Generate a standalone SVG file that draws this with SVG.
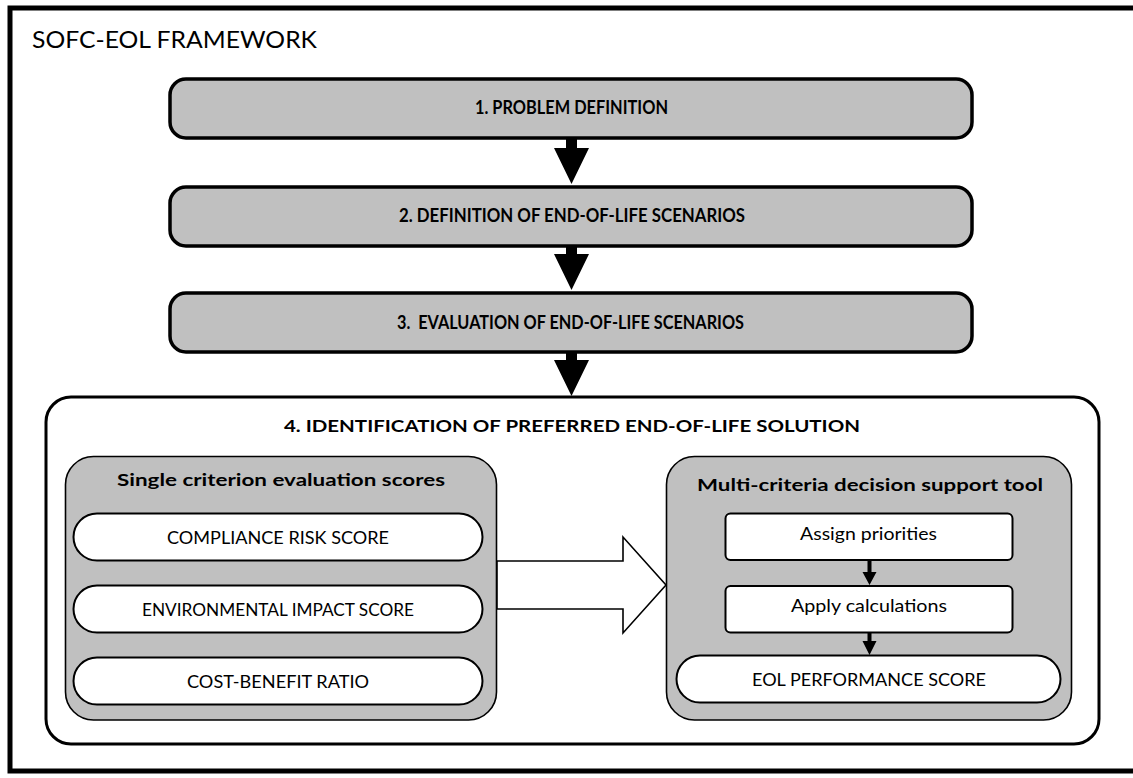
<svg xmlns="http://www.w3.org/2000/svg" width="1133" height="778" viewBox="0 0 1133 778">
  <style>
    .t { font-family: Lato, "Open Sans", "Liberation Sans", sans-serif; fill: #000; }
    .b { font-weight: bold; }
    .step { fill: #c0c0c0; stroke: #000; stroke-width: 3.5; }
    .panel { fill: #c0c0c0; stroke: #000; stroke-width: 1.6; }
    .pill { fill: #fff; stroke: #000; stroke-width: 2; }
    .solid { fill: #000; stroke: none; }
  </style>

  <!-- outer frame -->
  <rect x="10" y="8" width="1140" height="763" fill="#fff" stroke="#000" stroke-width="5"/>
  <text class="t" x="32" y="48" font-size="23" textLength="285" lengthAdjust="spacingAndGlyphs">SOFC-EOL FRAMEWORK</text>

  <!-- step 1 -->
  <g id="step1">
    <rect class="step" x="170" y="79" width="802" height="59" rx="16"/>
    <text class="t b" x="571.5" y="114" font-size="18.5" text-anchor="middle" textLength="193" lengthAdjust="spacingAndGlyphs">1. PROBLEM DEFINITION</text>
  </g>

  <!-- step 2 -->
  <g id="step2">
    <rect class="step" x="170" y="187" width="802" height="59" rx="16"/>
    <text class="t b" x="572" y="222" font-size="18.5" text-anchor="middle" textLength="346" lengthAdjust="spacingAndGlyphs">2. DEFINITION OF END-OF-LIFE SCENARIOS</text>
  </g>

  <!-- step 3 -->
  <g id="step3">
    <rect class="step" x="170" y="293" width="802" height="59" rx="16"/>
    <text class="t b" x="570.5" y="328.5" font-size="18.5" text-anchor="middle" textLength="347" lengthAdjust="spacingAndGlyphs">3.&#160; EVALUATION OF END-OF-LIFE SCENARIOS</text>
  </g>

  <!-- step 4 container -->
  <g id="step4">
    <rect x="46" y="397" width="1053" height="347" rx="25" fill="#fff" stroke="#000" stroke-width="3"/>
    <text class="t b" x="572" y="432" font-size="17" text-anchor="middle" textLength="576" lengthAdjust="spacingAndGlyphs">4. IDENTIFICATION OF PREFERRED END-OF-LIFE SOLUTION</text>
  </g>

  <!-- single criterion panel -->
  <g id="single-criterion">
    <rect class="panel" x="65.5" y="456.5" width="431" height="263.5" rx="28"/>
    <text class="t b" x="281" y="486" font-size="17.5" text-anchor="middle" textLength="328" lengthAdjust="spacingAndGlyphs">Single criterion evaluation scores</text>
  </g>
  <g id="compliance">
    <rect class="pill" x="73.5" y="513.5" width="409" height="47" rx="23.5"/>
    <text class="t" x="278" y="544" font-size="17.5" text-anchor="middle" textLength="222" lengthAdjust="spacingAndGlyphs">COMPLIANCE RISK SCORE</text>
  </g>
  <g id="environmental">
    <rect class="pill" x="73.5" y="585.5" width="409" height="47" rx="23.5"/>
    <text class="t" x="278" y="616" font-size="17.5" text-anchor="middle" textLength="272" lengthAdjust="spacingAndGlyphs">ENVIRONMENTAL IMPACT SCORE</text>
  </g>
  <g id="cost-benefit">
    <rect class="pill" x="73.5" y="657.5" width="409" height="47" rx="23.5"/>
    <text class="t" x="278" y="688" font-size="17.5" text-anchor="middle" textLength="182" lengthAdjust="spacingAndGlyphs">COST-BENEFIT RATIO</text>
  </g>

  <!-- multi-criteria panel -->
  <g id="multi-criteria">
    <rect class="panel" x="666.5" y="456.5" width="405" height="263.5" rx="28"/>
    <text class="t b" x="870" y="490.5" font-size="17.5" text-anchor="middle" textLength="346" lengthAdjust="spacingAndGlyphs">Multi-criteria decision support tool</text>
  </g>
  <g id="assign">
    <rect class="pill" x="725.5" y="513.5" width="287" height="46.5" rx="5"/>
    <text class="t" x="868.5" y="540" font-size="17.5" text-anchor="middle" textLength="137" lengthAdjust="spacingAndGlyphs">Assign priorities</text>
  </g>
  <g id="apply">
    <rect class="pill" x="725.5" y="586" width="287" height="46.5" rx="5"/>
    <text class="t" x="869" y="612" font-size="17.5" text-anchor="middle" textLength="156" lengthAdjust="spacingAndGlyphs">Apply calculations</text>
  </g>
  <g id="eol-score">
    <rect class="pill" x="676.5" y="655.5" width="384" height="47" rx="23.5"/>
    <text class="t" x="869" y="685.5" font-size="17.5" text-anchor="middle" textLength="234" lengthAdjust="spacingAndGlyphs">EOL PERFORMANCE SCORE</text>
  </g>

  <!-- connectors -->
  <g id="connectors">
    <polygon class="solid" points="566,139 577,139 577,148 589,148 571.5,184 554,148 566,148"/>
    <polygon class="solid" points="566,246 577,246 577,254 589,254 571.5,290 554,254 566,254"/>
    <polygon class="solid" points="566,352 577,352 577,360 589,360 571.5,396 554,360 566,360"/>
    <polygon points="497,561 623,561 623,537 666,585 623,633 623,609 497,609" fill="#fff" stroke="#000" stroke-width="1.6" stroke-linejoin="miter"/>
    <polygon class="solid" points="867.5,560 871.5,560 871.5,572 876.5,572 869.5,585 862.5,572 867.5,572"/>
    <polygon class="solid" points="867.5,632.5 871.5,632.5 871.5,641 876.5,641 869.5,655 862.5,641 867.5,641"/>
  </g>
</svg>
